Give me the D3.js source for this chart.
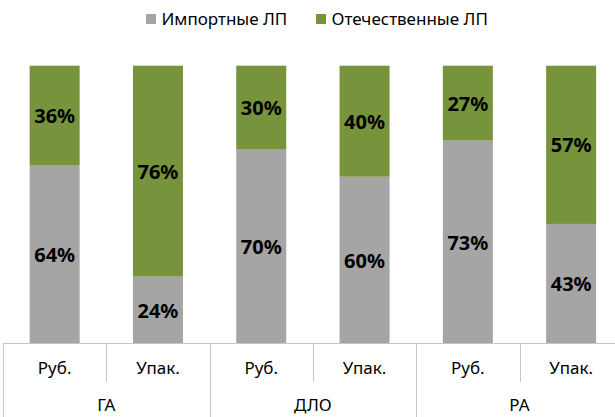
<!DOCTYPE html>
<html>
<head>
<meta charset="utf-8">
<script src="https://cdn.jsdelivr.net/npm/d3@7"></script>
<style>
  html, body { margin: 0; padding: 0; background: #ffffff; }
  svg { display: block; }
  text { font-family: "Noto Sans", "Open Sans", sans-serif; }
</style>
</head>
<body>
<svg id="chart" width="615" height="417"></svg>
<script>
const groups = ["ГА", "ДЛО", "РА"];
const subcats = ["Руб.", "Упак."];
const seriesNames = ["Импортные ЛП", "Отечественные ЛП"];
const imported = [64, 24, 70, 60, 73, 43];
const domestic = [36, 76, 30, 40, 27, 57];
const colors = ["#a5a5a5", "#77933c"];

const W = 615, H = 417;
const svg = d3.select("#chart");

const cats = [];
groups.forEach(g => subcats.forEach(s => cats.push(g + "|" + s)));

const rows = cats.map((c, i) => ({ cat: c, imp: imported[i], dom: domestic[i] }));
const stack = d3.stack().keys(["imp", "dom"]);
const stacked = stack(rows);

const x = d3.scaleBand().domain(cats).range([3, 622.8]).paddingInner(0.516).paddingOuter(0.258);
const y = d3.scaleLinear().domain([0, 100]).range([343.3, 65.7]);

const layers = svg.append("g").selectAll("g").data(stacked).join("g")
  .attr("fill", (d, i) => colors[i]);

layers.selectAll("rect").data(d => d).join("rect")
  .attr("x", d => x(d.data.cat))
  .attr("width", x.bandwidth())
  .attr("y", d => y(d[1]))
  .attr("height", d => y(d[0]) - y(d[1]));

layers.selectAll("text").data(d => d).join("text")
  .attr("x", d => x(d.data.cat) + x.bandwidth() / 2)
  .attr("y", d => (y(d[0]) + y(d[1])) / 2)
  .attr("dy", "0.38em")
  .attr("text-anchor", "middle")
  .attr("fill", "#000")
  .attr("font-weight", "bold")
  .attr("font-size", 20)
  .text(d => (d[1] - d[0]) + "%");

// axis
const axisColor = "#c6c6c6";
const step = x.step();
const x0 = 3;
const ax = svg.append("g");
ax.append("line").attr("x1", x0).attr("x2", W).attr("y1", 343.5).attr("y2", 343.5)
  .attr("stroke", axisColor).attr("stroke-width", 1);
for (let i = 0; i <= cats.length; i++) {
  const xx = Math.round(x0 + i * step) + 0.5;
  const long = i % subcats.length === 0;
  ax.append("line").attr("x1", xx).attr("x2", xx).attr("y1", 343.5).attr("y2", long ? H : 382)
    .attr("stroke", axisColor).attr("stroke-width", 1);
}
ax.selectAll("text.sub").data(cats).join("text").attr("class", "sub")
  .attr("x", d => x(d) + x.bandwidth() / 2)
  .attr("y", 374)
  .attr("text-anchor", "middle")
  .attr("font-size", 17)
  .attr("fill", "#000")
  .text(d => d.split("|")[1]);
ax.selectAll("text.grp").data(groups).join("text").attr("class", "grp")
  .attr("x", (d, i) => x0 + (i * subcats.length + subcats.length / 2) * step)
  .attr("y", 411)
  .attr("text-anchor", "middle")
  .attr("font-size", 17)
  .attr("fill", "#000")
  .text(d => d);

// legend
const legendX = [146, 316];
const lg = svg.append("g");
seriesNames.forEach((n, i) => {
  lg.append("rect").attr("x", legendX[i]).attr("y", 14).attr("width", 10).attr("height", 10).attr("fill", colors[i]);
  lg.append("text").attr("x", legendX[i] + 15.5).attr("y", 25).attr("font-size", 17).attr("fill", "#000").text(n);
});
</script>
</body>
</html>
